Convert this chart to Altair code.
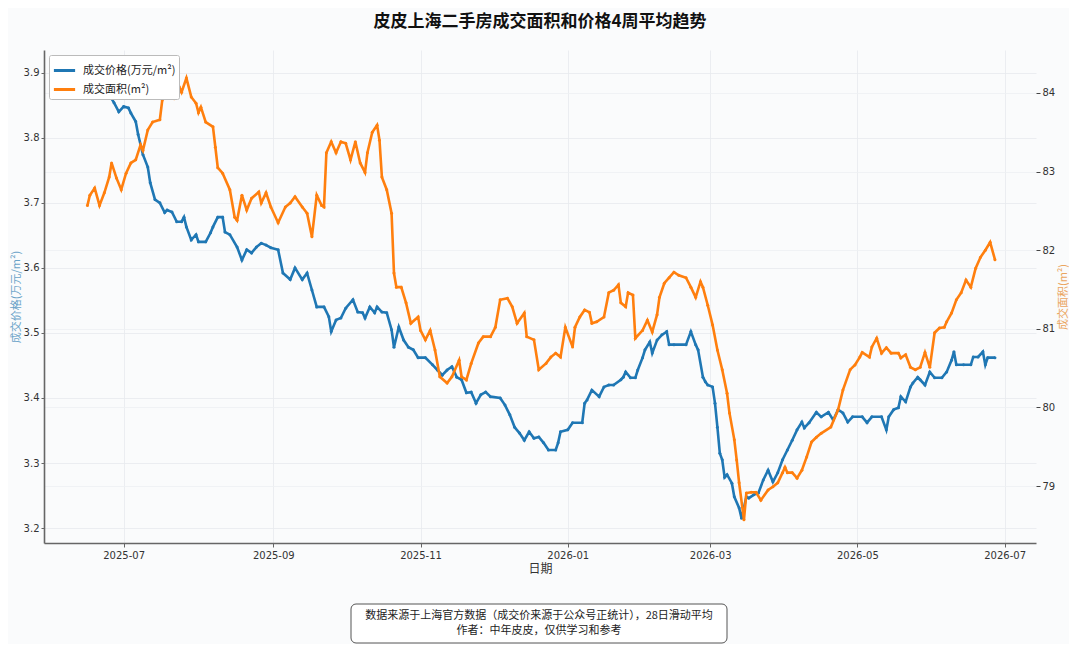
import altair as alt
import pandas as pd

TITLE = "皮皮上海二手房成交面积和价格4周平均趋势"
PRICE_NAME = "成交价格(万元/m²)"
AREA_NAME = "成交面积(m²)"
X_TITLE = "日期"
FOOTER_LINES = ["数据来源于上海官方数据（成交价来源于公众号正统计），28日滑动平均",
                "作者：中年皮皮，仅供学习和参考"]

# 4-week rolling average price (万元/m²)
price = [
    ("2025-06-16", 3.892), ("2025-06-19", 3.882), ("2025-06-21", 3.871), ("2025-06-23", 3.863),
    ("2025-06-25", 3.866), ("2025-06-27", 3.854), ("2025-06-29", 3.840), ("2025-07-01", 3.848),
    ("2025-07-03", 3.846), ("2025-07-04", 3.838), ("2025-07-06", 3.825), ("2025-07-07", 3.805),
    ("2025-07-09", 3.774), ("2025-07-11", 3.755), ("2025-07-12", 3.731), ("2025-07-14", 3.705),
    ("2025-07-16", 3.700), ("2025-07-18", 3.685), ("2025-07-19", 3.689), ("2025-07-21", 3.686),
    ("2025-07-23", 3.671), ("2025-07-25", 3.671), ("2025-07-26", 3.678), ("2025-07-27", 3.663),
    ("2025-07-29", 3.643), ("2025-07-31", 3.651), ("2025-08-01", 3.640), ("2025-08-04", 3.640),
    ("2025-08-06", 3.654), ("2025-08-07", 3.663), ("2025-08-09", 3.678), ("2025-08-11", 3.678),
    ("2025-08-12", 3.655), ("2025-08-14", 3.651), ("2025-08-17", 3.632), ("2025-08-19", 3.612),
    ("2025-08-21", 3.628), ("2025-08-23", 3.623), ("2025-08-25", 3.632), ("2025-08-27", 3.638),
    ("2025-08-29", 3.635), ("2025-08-31", 3.631), ("2025-09-03", 3.628), ("2025-09-05", 3.592),
    ("2025-09-08", 3.582), ("2025-09-10", 3.600), ("2025-09-13", 3.582), ("2025-09-15", 3.592),
    ("2025-09-17", 3.566), ("2025-09-19", 3.540), ("2025-09-22", 3.540), ("2025-09-24", 3.525),
    ("2025-09-25", 3.502), ("2025-09-27", 3.520), ("2025-09-29", 3.523), ("2025-10-01", 3.538),
    ("2025-10-04", 3.551), ("2025-10-06", 3.532), ("2025-10-08", 3.531), ("2025-10-09", 3.523),
    ("2025-10-11", 3.540), ("2025-10-13", 3.531), ("2025-10-14", 3.540), ("2025-10-16", 3.532),
    ("2025-10-18", 3.531), ("2025-10-20", 3.505), ("2025-10-21", 3.478), ("2025-10-23", 3.509),
    ("2025-10-25", 3.489), ("2025-10-27", 3.478), ("2025-10-29", 3.474), ("2025-10-31", 3.462),
    ("2025-11-03", 3.462), ("2025-11-06", 3.451), ("2025-11-08", 3.443), ("2025-11-10", 3.435),
    ("2025-11-12", 3.443), ("2025-11-14", 3.448), ("2025-11-16", 3.432), ("2025-11-18", 3.428),
    ("2025-11-20", 3.408), ("2025-11-22", 3.409), ("2025-11-24", 3.392), ("2025-11-26", 3.405),
    ("2025-11-28", 3.409), ("2025-11-30", 3.402), ("2025-12-04", 3.400), ("2025-12-06", 3.389),
    ("2025-12-08", 3.374), ("2025-12-10", 3.355), ("2025-12-12", 3.346), ("2025-12-14", 3.335),
    ("2025-12-16", 3.348), ("2025-12-18", 3.338), ("2025-12-20", 3.340), ("2025-12-22", 3.331),
    ("2025-12-24", 3.320), ("2025-12-27", 3.320), ("2025-12-28", 3.331), ("2025-12-29", 3.348),
    ("2026-01-01", 3.351), ("2026-01-03", 3.362), ("2026-01-07", 3.362), ("2026-01-08", 3.392),
    ("2026-01-09", 3.397), ("2026-01-11", 3.412), ("2026-01-14", 3.402), ("2026-01-16", 3.417),
    ("2026-01-18", 3.420), ("2026-01-20", 3.420), ("2026-01-23", 3.428), ("2026-01-24", 3.432),
    ("2026-01-25", 3.440), ("2026-01-27", 3.431), ("2026-01-29", 3.431), ("2026-01-30", 3.443),
    ("2026-02-01", 3.462), ("2026-02-02", 3.474), ("2026-02-04", 3.486), ("2026-02-05", 3.469),
    ("2026-02-07", 3.489), ("2026-02-09", 3.497), ("2026-02-11", 3.502), ("2026-02-12", 3.482),
    ("2026-02-14", 3.482), ("2026-02-19", 3.482), ("2026-02-21", 3.502), ("2026-02-23", 3.482),
    ("2026-02-24", 3.474), ("2026-02-26", 3.432), ("2026-02-27", 3.425), ("2026-02-28", 3.420),
    ("2026-03-02", 3.417), ("2026-03-03", 3.392), ("2026-03-04", 3.355), ("2026-03-05", 3.315),
    ("2026-03-06", 3.305), ("2026-03-07", 3.278), ("2026-03-08", 3.282), ("2026-03-10", 3.269),
    ("2026-03-11", 3.248), ("2026-03-13", 3.231), ("2026-03-14", 3.215), ("2026-03-16", 3.248),
    ("2026-03-17", 3.246), ("2026-03-19", 3.251), ("2026-03-21", 3.254), ("2026-03-23", 3.274),
    ("2026-03-25", 3.289), ("2026-03-27", 3.271), ("2026-03-29", 3.285), ("2026-03-31", 3.305),
    ("2026-04-02", 3.320), ("2026-04-04", 3.335), ("2026-04-06", 3.351), ("2026-04-08", 3.363),
    ("2026-04-09", 3.354), ("2026-04-11", 3.362), ("2026-04-14", 3.378), ("2026-04-16", 3.371),
    ("2026-04-19", 3.378), ("2026-04-21", 3.366), ("2026-04-23", 3.382), ("2026-04-25", 3.377),
    ("2026-04-27", 3.363), ("2026-04-29", 3.371), ("2026-05-03", 3.371), ("2026-05-05", 3.362),
    ("2026-05-07", 3.371), ("2026-05-11", 3.371), ("2026-05-13", 3.351), ("2026-05-14", 3.371),
    ("2026-05-16", 3.382), ("2026-05-18", 3.385), ("2026-05-19", 3.402), ("2026-05-21", 3.394),
    ("2026-05-23", 3.417), ("2026-05-24", 3.423), ("2026-05-26", 3.432), ("2026-05-27", 3.428),
    ("2026-05-29", 3.420), ("2026-05-31", 3.440), ("2026-06-02", 3.431), ("2026-06-05", 3.431),
    ("2026-06-07", 3.440), ("2026-06-09", 3.458), ("2026-06-10", 3.471), ("2026-06-11", 3.451),
    ("2026-06-14", 3.451), ("2026-06-17", 3.451), ("2026-06-18", 3.463), ("2026-06-20", 3.463),
    ("2026-06-22", 3.471), ("2026-06-23", 3.451), ("2026-06-24", 3.462), ("2026-06-27", 3.462),
]

# 4-week rolling average deal area (m²)
area = [
    ("2025-06-16", 82.57), ("2025-06-17", 82.70), ("2025-06-19", 82.79), ("2025-06-21", 82.57),
    ("2025-06-23", 82.73), ("2025-06-25", 82.93), ("2025-06-26", 83.11), ("2025-06-28", 82.92),
    ("2025-06-30", 82.77), ("2025-07-02", 82.98), ("2025-07-04", 83.11), ("2025-07-06", 83.15),
    ("2025-07-08", 83.34), ("2025-07-09", 83.27), ("2025-07-11", 83.53), ("2025-07-13", 83.63),
    ("2025-07-16", 83.66), ("2025-07-17", 83.91), ("2025-07-19", 84.23), ("2025-07-20", 84.17),
    ("2025-07-22", 83.95), ("2025-07-24", 84.08), ("2025-07-25", 84.01), ("2025-07-27", 84.19),
    ("2025-07-29", 83.95), ("2025-07-31", 83.87), ("2025-08-01", 83.75), ("2025-08-02", 83.82),
    ("2025-08-04", 83.63), ("2025-08-07", 83.57), ("2025-08-08", 83.31), ("2025-08-09", 83.05),
    ("2025-08-11", 82.98), ("2025-08-14", 82.77), ("2025-08-16", 82.42), ("2025-08-17", 82.38),
    ("2025-08-19", 82.70), ("2025-08-21", 82.51), ("2025-08-23", 82.66), ("2025-08-26", 82.74),
    ("2025-08-27", 82.60), ("2025-08-29", 82.73), ("2025-08-31", 82.55), ("2025-09-03", 82.35),
    ("2025-09-06", 82.55), ("2025-09-08", 82.60), ("2025-09-10", 82.68), ("2025-09-13", 82.55),
    ("2025-09-15", 82.47), ("2025-09-17", 82.17), ("2025-09-19", 82.70), ("2025-09-21", 82.57),
    ("2025-09-22", 82.55), ("2025-09-23", 83.24), ("2025-09-25", 83.38), ("2025-09-27", 83.24),
    ("2025-09-29", 83.38), ("2025-10-01", 83.36), ("2025-10-03", 83.15), ("2025-10-05", 83.38),
    ("2025-10-07", 83.11), ("2025-10-09", 82.99), ("2025-10-10", 83.24), ("2025-10-12", 83.50),
    ("2025-10-14", 83.59), ("2025-10-15", 83.40), ("2025-10-16", 82.93), ("2025-10-18", 82.77),
    ("2025-10-20", 82.47), ("2025-10-21", 81.71), ("2025-10-22", 81.53), ("2025-10-24", 81.53),
    ("2025-10-26", 81.33), ("2025-10-28", 81.07), ("2025-10-31", 81.15), ("2025-11-01", 80.98),
    ("2025-11-03", 80.86), ("2025-11-05", 80.98), ("2025-11-07", 80.73), ("2025-11-09", 80.39),
    ("2025-11-12", 80.31), ("2025-11-14", 80.39), ("2025-11-17", 80.60), ("2025-11-18", 80.39),
    ("2025-11-20", 80.35), ("2025-11-22", 80.56), ("2025-11-25", 80.82), ("2025-11-27", 80.90),
    ("2025-11-30", 80.90), ("2025-12-02", 81.02), ("2025-12-04", 81.37), ("2025-12-07", 81.39),
    ("2025-12-09", 81.28), ("2025-12-11", 81.07), ("2025-12-14", 81.20), ("2025-12-15", 80.90),
    ("2025-12-18", 80.86), ("2025-12-20", 80.48), ("2025-12-23", 80.56), ("2025-12-25", 80.64),
    ("2025-12-27", 80.69), ("2025-12-29", 80.64), ("2025-12-31", 81.02), ("2026-01-03", 80.77),
    ("2026-01-04", 81.02), ("2026-01-06", 81.15), ("2026-01-08", 81.24), ("2026-01-10", 81.21),
    ("2026-01-11", 81.07), ("2026-01-13", 81.09), ("2026-01-16", 81.15), ("2026-01-18", 81.46),
    ("2026-01-20", 81.49), ("2026-01-22", 81.56), ("2026-01-23", 81.33), ("2026-01-25", 81.28),
    ("2026-01-26", 81.46), ("2026-01-28", 81.43), ("2026-01-29", 80.88), ("2026-02-01", 80.98),
    ("2026-02-03", 81.11), ("2026-02-05", 80.96), ("2026-02-07", 81.18), ("2026-02-08", 81.40),
    ("2026-02-10", 81.58), ("2026-02-12", 81.65), ("2026-02-14", 81.72), ("2026-02-16", 81.68),
    ("2026-02-19", 81.65), ("2026-02-21", 81.53), ("2026-02-23", 81.40), ("2026-02-25", 81.60),
    ("2026-02-26", 81.53), ("2026-02-28", 81.30), ("2026-03-02", 81.05), ("2026-03-04", 80.73),
    ("2026-03-06", 80.48), ("2026-03-08", 80.18), ("2026-03-09", 79.93), ("2026-03-11", 79.59),
    ("2026-03-12", 79.33), ("2026-03-13", 79.04), ("2026-03-15", 78.57), ("2026-03-16", 78.91),
    ("2026-03-18", 78.92), ("2026-03-20", 78.92), ("2026-03-22", 78.82), ("2026-03-25", 78.95),
    ("2026-03-27", 78.99), ("2026-03-29", 79.04), ("2026-03-31", 79.17), ("2026-04-01", 79.24),
    ("2026-04-02", 79.17), ("2026-04-04", 79.17), ("2026-04-06", 79.10), ("2026-04-08", 79.20),
    ("2026-04-10", 79.37), ("2026-04-12", 79.56), ("2026-04-14", 79.62), ("2026-04-16", 79.67),
    ("2026-04-20", 79.75), ("2026-04-23", 79.97), ("2026-04-25", 80.22), ("2026-04-28", 80.48),
    ("2026-04-30", 80.54), ("2026-05-02", 80.64), ("2026-05-03", 80.70), ("2026-05-06", 80.64),
    ("2026-05-07", 80.77), ("2026-05-09", 80.88), ("2026-05-11", 80.69), ("2026-05-13", 80.76),
    ("2026-05-15", 80.69), ("2026-05-18", 80.69), ("2026-05-19", 80.63), ("2026-05-21", 80.67),
    ("2026-05-23", 80.51), ("2026-05-25", 80.48), ("2026-05-27", 80.51), ("2026-05-29", 80.70),
    ("2026-05-31", 80.51), ("2026-06-02", 80.95), ("2026-06-04", 81.01), ("2026-06-06", 81.02),
    ("2026-06-07", 81.09), ("2026-06-09", 81.20), ("2026-06-11", 81.37), ("2026-06-13", 81.46),
    ("2026-06-15", 81.62), ("2026-06-17", 81.53), ("2026-06-19", 81.77), ("2026-06-21", 81.91),
    ("2026-06-23", 82.00), ("2026-06-25", 82.10), ("2026-06-27", 81.88),
]

price_ticks = [3.2, 3.3, 3.4, 3.5, 3.6, 3.7, 3.8, 3.9]
area_ticks = [79, 80, 81, 82, 83, 84]
x_tick_months = [(2025, 7), (2025, 9), (2025, 11), (2026, 1), (2026, 3), (2026, 5), (2026, 7)]

df_p = pd.DataFrame(price, columns=["date", "value"])
df_p["series"] = PRICE_NAME
df_a = pd.DataFrame(area, columns=["date", "value"])
df_a["series"] = AREA_NAME

BLUE = "#1f77b4"
ORANGE = "#ff7f0e"
CJK = "Noto Sans CJK SC"
LAT = "DejaVu Sans"

color = alt.Color(
    "series:N",
    scale=alt.Scale(domain=[PRICE_NAME, AREA_NAME], range=[BLUE, ORANGE]),
    legend=alt.Legend(
        title=None, orient="top-left", offset=5,
        fillColor="white", strokeColor="#bbbbbb", padding=3, cornerRadius=2,
        labelFont=CJK, labelFontSize=11, labelColor="#222", labelOffset=6,
        symbolType="stroke", symbolStrokeWidth=3, symbolSize=450, rowPadding=0,
    ),
)

x = alt.X(
    "date:T",
    title=X_TITLE,
    scale=alt.Scale(
        type="utc",
        domain=[alt.DateTime(year=2025, month=5, date=29, utc=True),
                alt.DateTime(year=2026, month=7, date=14, utc=True)],
    ),
    axis=alt.Axis(
        values=[alt.DateTime(year=yy, month=mm, date=1, utc=True) for yy, mm in x_tick_months],
        labelExpr="utcFormat(datum.value, '%Y-%m')",
        labelFont=LAT, labelFontSize=10, labelColor="#333", labelPadding=3,
        titleFont=CJK, titleFontSize=12, titleFontWeight="normal", titleColor="#333", titlePadding=3,
        domainColor="#666", domainWidth=1.6, tickColor="#666", tickSize=4,
        grid=True, gridColor="#e7eaee", gridWidth=0.8,
    ),
)

point_def = alt.OverlayMarkDef(size=9, filled=True, opacity=1)

price_layer = alt.Chart(df_p).mark_line(strokeWidth=2.6, point=point_def).encode(
    x=x,
    y=alt.Y(
        "value:Q",
        scale=alt.Scale(domain=[3.177, 3.935], nice=False, zero=False),
        axis=alt.Axis(
            title=PRICE_NAME, orient="left", values=price_ticks, format=".1f",
            labelFont=LAT, labelFontSize=10, labelColor="#333", labelPadding=2,
            titleFont=CJK, titleFontSize=11, titleFontWeight="normal", titleColor="#6aa3c8",
            titlePadding=2,
            domainColor="#666", domainWidth=1.6, tickColor="#666", tickSize=3,
            grid=True, gridColor="#e7eaee", gridWidth=0.8,
        ),
    ),
    color=color,
)

area_layer = alt.Chart(df_a).mark_line(strokeWidth=2.6, point=point_def).encode(
    x=x,
    y=alt.Y(
        "value:Q",
        scale=alt.Scale(domain=[78.275, 84.547], nice=False, zero=False),
        axis=alt.Axis(
            title=AREA_NAME, orient="right", values=area_ticks, format="d",
            labelFont=LAT, labelFontSize=10, labelColor="#333", labelPadding=2,
            titleFont=CJK, titleFontSize=11, titleFontWeight="normal", titleColor="#eaa560",
            titleAngle=270, titleBaseline="top", titlePadding=3,
            domain=False, tickColor="#444", tickSize=4,
            grid=True, gridColor="#eef0f3", gridWidth=0.8,
        ),
    ),
    color=color,
)

footer_box = alt.Chart().mark_rect(
    fill="white", stroke="#555", strokeWidth=1, cornerRadius=5
).encode(
    x=alt.value(307), x2=alt.value(683), y=alt.value(554), y2=alt.value(593)
)

footer_text = alt.Chart().mark_text(
    font=CJK, fontSize=11, color="#222", align="center", baseline="middle",
    lineBreak="\n", lineHeight=15,
).encode(
    x=alt.value(495), y=alt.value(566), text=alt.value("\n".join(FOOTER_LINES))
)

chart = alt.layer(price_layer, area_layer, footer_box, footer_text).resolve_scale(
    y="independent"
).properties(
    width=992, height=493,
    title=alt.TitleParams(TITLE, font=CJK, fontSize=17, fontWeight="bold",
                          color="#111", anchor="middle", offset=19),
    background="#fafbfc",
    padding={"left": 2, "top": 5, "right": 0, "bottom": 0},
).configure_view(stroke=None)

chart.save("out.html", embed_options={"renderer": "svg", "actions": False})
